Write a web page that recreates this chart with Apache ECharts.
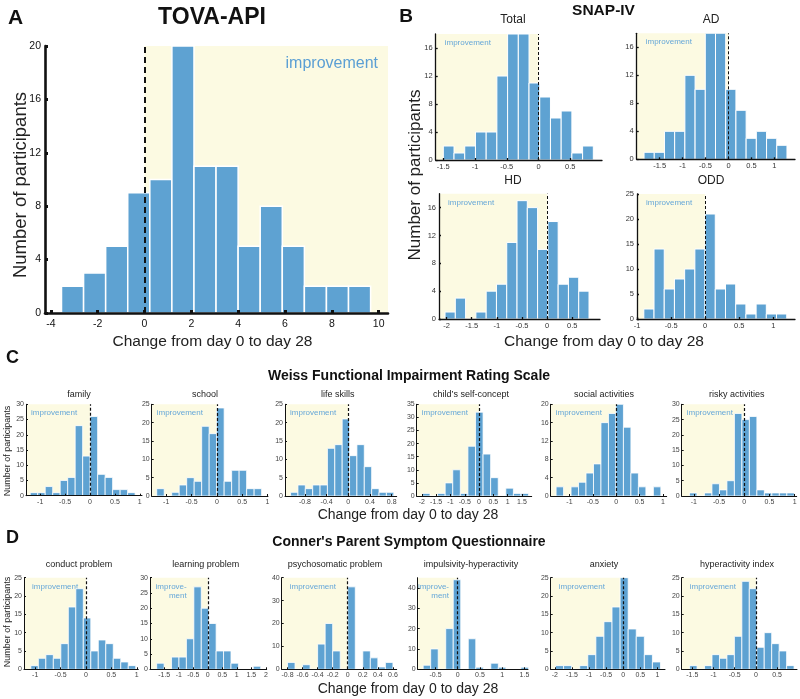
<!DOCTYPE html>
<html>
<head>
<meta charset="utf-8">
<script src="https://cdn.jsdelivr.net/npm/echarts@6/dist/echarts.min.js"></script>
<style>
  html, body { margin: 0; background: #fff; }
  #main { width: 800px; height: 699px; }
</style>
</head>
<body>
<div id="main"></div>
<script>
// participants per histogram bin
var tovaCounts = [2, 3, 5, 9, 10, 20, 11, 11, 5, 8, 5, 2, 2, 2];
var snapTotal = [2, 1, 2, 4, 4, 12, 18, 18, 11, 9, 6, 7, 1, 2];
var snapAD = [1, 1, 4, 4, 12, 10, 18, 18, 10, 7, 3, 4, 3, 2];
var snapHD = [1, 3, 0, 1, 4, 5, 11, 17, 16, 10, 14, 5, 6, 4];
var snapODD = [2, 14, 6, 8, 10, 14, 21, 6, 7, 3, 1, 3, 1, 1];
var weissFamily = [1, 1, 3, 1, 5, 6, 23, 13, 26, 7, 6, 2, 2, 1];
var weissSchool = [2, 0, 1, 3, 5, 4, 19, 17, 24, 4, 7, 7, 2, 2];
var weissLife = [1, 3, 2, 3, 3, 13, 14, 21, 11, 14, 8, 2, 1, 1];
var weissSelf = [1, 0, 1, 5, 10, 1, 19, 32, 16, 7, 0, 3, 1, 1];
var weissSocial = [2, 0, 2, 3, 5, 7, 16, 18, 20, 15, 5, 2, 0, 2];
var weissRisky = [1, 0, 1, 4, 2, 5, 27, 25, 26, 2, 1, 1, 1, 1];
var cpsqConduct = [1, 3, 4, 3, 7, 17, 22, 14, 5, 8, 7, 3, 2, 1];
var cpsqLearning = [2, 0, 4, 4, 10, 27, 20, 15, 6, 6, 2, 0, 0, 1];
var cpsqPsycho = [3, 0, 2, 0, 11, 20, 8, 0, 36, 0, 8, 5, 1, 3];
var cpsqImpulse = [2, 10, 0, 20, 44, 0, 15, 1, 0, 3, 1, 0, 0, 1];
var cpsqAnxiety = [1, 1, 0, 1, 4, 9, 13, 17, 25, 11, 9, 4, 2];
var cpsqHyper = [1, 0, 1, 4, 3, 4, 9, 24, 22, 6, 10, 7, 5, 1];

// [first bin edge, bin width]
var tovaBins = [-3.545, 0.943];
var totalBins = [-1.5, 0.1688];
var adBins = [-1.84, 0.2225];
var hdBins = [-2.03, 0.2044];
var oddBins = [-0.9, 0.1497];
var familyBins = [-1.2, 0.1504];
var schoolBins = [-1.188, 0.148];
var lifeBins = [-1.065, 0.136];
var selfBins = [-1.98, 0.265];
var socialBins = [-1.285, 0.16];
var riskyBins = [-1.086, 0.1485];
var conductBins = [-1.085, 0.1475];
var learningBins = [-1.76, 0.256];
var psychoBins = [-0.8, 0.1];
var impulseBins = [-0.777, 0.169];
var anxietyBins = [-1.98, 0.236];
var hyperBins = [-1.563, 0.176];

// tick labels
var tovaXTicks = [-4, -2, 0, 2, 4, 6, 8, 10];
var tovaYTicks = [0, 4, 8, 12, 16, 20];
var totalXTicks = [-1.5, -1, -0.5, 0, 0.5];
var adXTicks = [-1.5, -1, -0.5, 0, 0.5, 1];
var hdXTicks = [-2, -1.5, -1, -0.5, 0, 0.5];
var oddXTicks = [-1, -0.5, 0, 0.5, 1];
var snapYTicks = [0, 4, 8, 12, 16];
var oddYTicks = [0, 5, 10, 15, 20, 25];
var unitXTicks = [-1, -0.5, 0, 0.5, 1];
var lifeXTicks = [-0.8, -0.4, 0, 0.4, 0.8];
var selfXTicks = [-2, -1.5, -1, -0.5, 0, 0.5, 1, 1.5];
var learningXTicks = [-1.5, -1, -0.5, 0, 0.5, 1, 1.5, 2];
var psychoXTicks = [-0.8, -0.6, -0.4, -0.2, 0, 0.2, 0.4, 0.6];
var impulseXTicks = [-0.5, 0, 0.5, 1, 1.5];
var anxietyXTicks = [-2, -1.5, -1, -0.5, 0, 0.5, 1];
var hyperXTicks = [-1.5, -1, -0.5, 0, 0.5, 1];
var y20Ticks = [0, 4, 8, 12, 16, 20];
var y25Ticks = [0, 5, 10, 15, 20, 25];
var y30Ticks = [0, 5, 10, 15, 20, 25, 30];
var y35Ticks = [0, 5, 10, 15, 20, 25, 30, 35];
var y40Ticks = [0, 10, 20, 30, 40];

var BAR = '#5ea2d2';
var YELLOW = '#fcfae2';
var FONT = '"Liberation Sans", Arial, sans-serif';

var styles = {
  big: { axisW: 2.6, tickLen: 3, tickW: 3, lab: 10.5, labColor: '#111', xMargin: 6, yMargin: 4,
         dashW: 2, dash: [6, 4], stroke: 1.5, imp: 16, impColor: '#5b9fd4' },
  mid: { axisW: 1.3, tickLen: 2, tickW: 1.3, lab: 7.5, labColor: '#333', xMargin: 3, yMargin: 3,
         dashW: 1, dash: [3, 2], stroke: 1, imp: 8, impColor: '#66a7d8' },
  small: { axisW: 1, tickLen: 2, tickW: 1, lab: 7, labColor: '#444', xMargin: 2.5, yMargin: 2,
           dashW: 1.2, dash: [3, 2], stroke: 0.8, imp: 8, impColor: '#66a7d8' }
};

// l, t, r, b in pixels
var panels = [
  { box: [45, 46, 388, 313], x: [-4.25, 10.4], yMax: 20, counts: tovaCounts, bins: tovaBins, xt: tovaXTicks, yt: tovaYTicks, s: 'big', right: true },
  { box: [435.7, 34, 602, 160], x: [-1.62, 1.0], yMax: 18, counts: snapTotal, bins: totalBins, xt: totalXTicks, yt: snapYTicks, s: 'mid', imp: [9, 4] },
  { box: [636.7, 33.3, 795, 159.3], x: [-2, 1.45], yMax: 18, counts: snapAD, bins: adBins, xt: adXTicks, yt: snapYTicks, s: 'mid', imp: [9, 4] },
  { box: [439, 193.7, 600, 319], x: [-2.15, 1.05], yMax: 18, counts: snapHD, bins: hdBins, xt: hdXTicks, yt: snapYTicks, s: 'mid', imp: [9, 4] },
  { box: [637, 194, 795, 319], x: [-1, 1.317], yMax: 25, counts: snapODD, bins: oddBins, xt: oddXTicks, yt: oddYTicks, s: 'mid', imp: [9, 4] },
  { box: [26, 404.3, 142, 495.7], x: [-1.285, 1.044], yMax: 30, counts: weissFamily, bins: familyBins, xt: unitXTicks, yt: y30Ticks, s: 'small', imp: [5, 3.5] },
  { box: [151.7, 404.3, 268, 496], x: [-1.287, 1.01], yMax: 25, counts: weissSchool, bins: schoolBins, xt: unitXTicks, yt: y25Ticks, s: 'small', imp: [5, 3.5] },
  { box: [285, 404.3, 396.7, 496], x: [-1.168, 0.893], yMax: 25, counts: weissLife, bins: lifeBins, xt: lifeXTicks, yt: y25Ticks, s: 'small', imp: [5, 3.5] },
  { box: [416.7, 404.3, 531.7, 496], x: [-2.18, 1.84], yMax: 35, counts: weissSelf, bins: selfBins, xt: selfXTicks, yt: y35Ticks, s: 'small', imp: [5, 3.5] },
  { box: [550.7, 404.3, 666.7, 496], x: [-1.40, 1.08], yMax: 20, counts: weissSocial, bins: socialBins, xt: unitXTicks, yt: y20Ticks, s: 'small', imp: [5, 3.5] },
  { box: [681.7, 404.3, 796.7, 496], x: [-1.24, 1.04], yMax: 30, counts: weissRisky, bins: riskyBins, xt: unitXTicks, yt: y30Ticks, s: 'small', imp: [5, 3.5] },
  { box: [24, 577.7, 138.3, 669.3], x: [-1.22, 1.03], yMax: 25, counts: cpsqConduct, bins: conductBins, xt: unitXTicks, yt: y25Ticks, s: 'small', imp: [8, 4] },
  { box: [150, 577.7, 266.7, 669.3], x: [-1.99, 2.03], yMax: 30, counts: cpsqLearning, bins: learningBins, xt: learningXTicks, yt: y30Ticks, s: 'small', imp: [36.7, 4], split: true },
  { box: [281.7, 577.7, 396.7, 669.3], x: [-0.877, 0.65], yMax: 40, counts: cpsqPsycho, bins: psychoBins, xt: psychoXTicks, yt: y40Ticks, s: 'small', imp: [8, 4] },
  { box: [417.7, 577.7, 528, 669.3], x: [-0.9, 1.58], yMax: 45, counts: cpsqImpulse, bins: impulseBins, xt: impulseXTicks, yt: y40Ticks, s: 'small', imp: [31.3, 4], split: true },
  { box: [550.7, 577.7, 665, 669.3], x: [-2.12, 1.22], yMax: 25, counts: cpsqAnxiety, bins: anxietyBins, xt: anxietyXTicks, yt: y25Ticks, s: 'small', imp: [8, 4] },
  { box: [681.7, 577.7, 797, 669.3], x: [-1.75, 0.97], yMax: 25, counts: cpsqHyper, bins: hyperBins, xt: hyperXTicks, yt: y25Ticks, s: 'small', imp: [8, 4] }
];

var grids = [], xAxes = [], yAxes = [], series = [];

panels.forEach(function (p, i) {
  var st = styles[p.s];
  grids.push({ left: p.box[0], top: p.box[1], width: p.box[2] - p.box[0], height: p.box[3] - p.box[1] });
  var axisCommon = {
    gridIndex: i, type: 'value', z: 4,
    splitLine: { show: false },
    axisLine: { show: true, onZero: false, lineStyle: { color: '#111', width: st.axisW } },
    axisLabel: { fontFamily: FONT, fontSize: st.lab, color: st.labColor }
  };
  xAxes.push(echarts.util.merge({
    min: p.x[0], max: p.x[1],
    axisTick: { show: true, inside: true, length: st.tickLen, customValues: p.xt, lineStyle: { color: '#111', width: st.tickW } },
    axisLabel: { customValues: p.xt, margin: st.xMargin }
  }, axisCommon));
  yAxes.push(echarts.util.merge({
    min: 0, max: p.yMax,
    axisTick: { show: true, inside: true, length: st.tickLen, customValues: p.yt, lineStyle: { color: '#111', width: st.tickW } },
    axisLabel: { customValues: p.yt, margin: st.yMargin }
  }, axisCommon));

  var data = p.counts.map(function (c, k) {
    return [p.bins[0] + k * p.bins[1], p.bins[0] + (k + 1) * p.bins[1], c];
  });

  var impLabel = p.right
    ? { show: true, position: 'insideTopRight', distance: 10, formatter: 'improvement' }
    : { show: true, position: p.imp, formatter: p.split ? 'improve-\nment' : 'improvement',
        align: p.split ? 'right' : 'left', verticalAlign: 'top', lineHeight: 9.5 };
  impLabel.fontFamily = FONT;
  impLabel.fontSize = st.imp;
  impLabel.color = st.impColor;

  series.push({
    type: 'custom',
    xAxisIndex: i, yAxisIndex: i,
    data: data,
    encode: { x: [0, 1], y: 2 },
    clip: true,
    silent: true,
    renderItem: function (params, api) {
      var a = api.coord([api.value(0), api.value(2)]);
      var b = api.coord([api.value(1), 0]);
      return {
        type: 'rect',
        shape: { x: a[0], y: a[1], width: b[0] - a[0], height: b[1] - a[1] },
        style: { fill: BAR, stroke: '#fff', lineWidth: st.stroke }
      };
    },
    markArea: {
      silent: true,
      z: 1,
      itemStyle: { color: YELLOW },
      label: impLabel,
      data: [[
        { xAxis: p.right ? 0 : p.x[0], yAxis: p.yMax },
        { xAxis: p.right ? p.x[1] : 0, yAxis: 0 }
      ]]
    },
    markLine: {
      silent: true,
      symbol: ['none', 'none'],
      label: { show: false },
      lineStyle: { type: st.dash, color: '#111', width: st.dashW },
      data: [[{ coord: [0, 0] }, { coord: [0, p.yMax] }]]
    }
  });
});

function txt(s, x, y, size, opts) {
  opts = opts || {};
  return {
    type: 'text', x: x, y: y, rotation: opts.rot ? Math.PI / 2 : 0, z: 10,
    style: {
      text: s, fill: opts.color || '#111', textAlign: 'center', textVerticalAlign: 'middle',
      font: (opts.bold ? 'bold ' : '') + size + 'px ' + FONT
    }
  };
}

var texts = [
  txt('A', 15.5, 18.5, 21, { bold: true }),
  txt('TOVA-API', 212, 18, 23, { bold: true }),
  txt('Number of participants', 21, 185, 18.5, { rot: true, color: '#222' }),
  txt('Change from day 0 to day 28', 212.5, 342, 15.5, { color: '#222' }),
  txt('B', 406, 17, 19, { bold: true }),
  txt('SNAP-IV', 603.5, 11, 15.5, { bold: true }),
  txt('Total', 513, 20, 12, { color: '#222' }),
  txt('AD', 711, 20, 12, { color: '#222' }),
  txt('HD', 513, 181, 12, { color: '#222' }),
  txt('ODD', 711, 181, 12, { color: '#222' }),
  txt('Number of participants', 415, 175, 17, { rot: true, color: '#222' }),
  txt('Change from day 0 to day 28', 604, 342, 15.5, { color: '#222' }),
  txt('C', 12.5, 358.5, 18, { bold: true }),
  txt('Weiss Functional Impairment Rating Scale', 409, 376, 14, { bold: true }),
  txt('family', 79, 394.3, 9, { color: '#222' }),
  txt('school', 205, 394.3, 9, { color: '#222' }),
  txt('life skills', 337.7, 394.3, 9, { color: '#222' }),
  txt('child\u2019s self-concept', 471, 394.3, 9, { color: '#222' }),
  txt('social activities', 604, 394.3, 9, { color: '#222' }),
  txt('risky activities', 736.7, 394.3, 9, { color: '#222' }),
  txt('Number of participants', 7.5, 451, 9, { rot: true, color: '#222' }),
  txt('Change from day 0 to day 28', 408, 515, 14, { color: '#222' }),
  txt('D', 12.5, 538.5, 18, { bold: true }),
  txt('Conner\'s Parent Symptom Questionnaire', 409, 541.7, 14, { bold: true }),
  txt('conduct problem', 79, 564.3, 9, { color: '#222' }),
  txt('learning problem', 205.7, 564.3, 9, { color: '#222' }),
  txt('psychosomatic problem', 335, 564.3, 9, { color: '#222' }),
  txt('impulsivity-hyperactivity', 471, 564.3, 9, { color: '#222' }),
  txt('anxiety', 604, 564.3, 9, { color: '#222' }),
  txt('hyperactivity index', 737, 564.3, 9, { color: '#222' }),
  txt('Number of participants', 7.5, 622, 9, { rot: true, color: '#222' }),
  txt('Change from day 0 to day 28', 408, 689, 14, { color: '#222' })
];

var chart = echarts.init(document.getElementById('main'));
chart.setOption({
  animation: false,
  backgroundColor: '#fff',
  grid: grids,
  xAxis: xAxes,
  yAxis: yAxes,
  series: series,
  graphic: texts
});
</script>
</body>
</html>
